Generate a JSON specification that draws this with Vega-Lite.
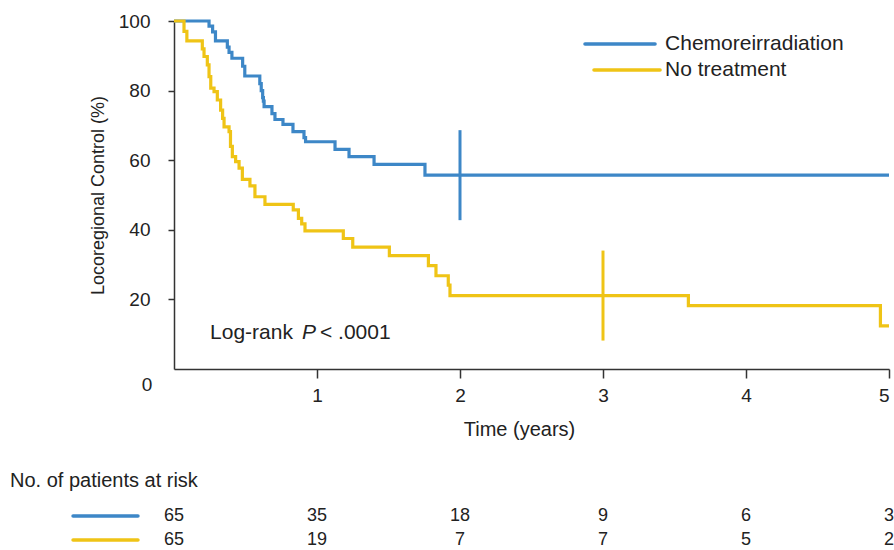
{
  "$schema": "https://vega.github.io/schema/vega-lite/v6.json",
  "padding": {"left": 10, "top": 12, "right": 2, "bottom": 2},
  "config": {
    "view": {"stroke": null},
    "font": "Liberation Sans",
    "axis": {"labelFontSize": 19, "titleFontSize": 20, "titleFontWeight": "normal", "labelColor": "#222", "titleColor": "#222", "domainColor": "#333", "tickColor": "#333", "grid": false}
  },
  "datasets": {
    "curves": [
      {"group": "Chemoreirradiation", "t": 0, "v": 100},
      {"group": "Chemoreirradiation", "t": 0.245, "v": 98.5},
      {"group": "Chemoreirradiation", "t": 0.27, "v": 96.9},
      {"group": "Chemoreirradiation", "t": 0.29, "v": 94.3},
      {"group": "Chemoreirradiation", "t": 0.373, "v": 92.5},
      {"group": "Chemoreirradiation", "t": 0.385, "v": 91},
      {"group": "Chemoreirradiation", "t": 0.405, "v": 89.3},
      {"group": "Chemoreirradiation", "t": 0.48, "v": 87},
      {"group": "Chemoreirradiation", "t": 0.495, "v": 84.2},
      {"group": "Chemoreirradiation", "t": 0.6, "v": 82},
      {"group": "Chemoreirradiation", "t": 0.61, "v": 80},
      {"group": "Chemoreirradiation", "t": 0.62, "v": 78},
      {"group": "Chemoreirradiation", "t": 0.625, "v": 77},
      {"group": "Chemoreirradiation", "t": 0.63, "v": 75.4},
      {"group": "Chemoreirradiation", "t": 0.685, "v": 73.4},
      {"group": "Chemoreirradiation", "t": 0.706, "v": 71.7},
      {"group": "Chemoreirradiation", "t": 0.762, "v": 70.3},
      {"group": "Chemoreirradiation", "t": 0.832, "v": 68.2},
      {"group": "Chemoreirradiation", "t": 0.909, "v": 66.5},
      {"group": "Chemoreirradiation", "t": 0.92, "v": 65.3},
      {"group": "Chemoreirradiation", "t": 1.126, "v": 63.1},
      {"group": "Chemoreirradiation", "t": 1.224, "v": 61.0},
      {"group": "Chemoreirradiation", "t": 1.399, "v": 58.8},
      {"group": "Chemoreirradiation", "t": 1.755, "v": 55.7},
      {"group": "Chemoreirradiation", "t": 5, "v": 55.7},
      {"group": "No treatment", "t": 0, "v": 100},
      {"group": "No treatment", "t": 0.07, "v": 97},
      {"group": "No treatment", "t": 0.09, "v": 94.3},
      {"group": "No treatment", "t": 0.198, "v": 92},
      {"group": "No treatment", "t": 0.21, "v": 89.8},
      {"group": "No treatment", "t": 0.233, "v": 87.4},
      {"group": "No treatment", "t": 0.245, "v": 84},
      {"group": "No treatment", "t": 0.257, "v": 80.7},
      {"group": "No treatment", "t": 0.28, "v": 79.7},
      {"group": "No treatment", "t": 0.303, "v": 77.3},
      {"group": "No treatment", "t": 0.326, "v": 74.4},
      {"group": "No treatment", "t": 0.34, "v": 72},
      {"group": "No treatment", "t": 0.35, "v": 69.6},
      {"group": "No treatment", "t": 0.385, "v": 68.2},
      {"group": "No treatment", "t": 0.395, "v": 64},
      {"group": "No treatment", "t": 0.408, "v": 61},
      {"group": "No treatment", "t": 0.431, "v": 59.6},
      {"group": "No treatment", "t": 0.455, "v": 57.7},
      {"group": "No treatment", "t": 0.478, "v": 54.5},
      {"group": "No treatment", "t": 0.531, "v": 52.6},
      {"group": "No treatment", "t": 0.566, "v": 49.5},
      {"group": "No treatment", "t": 0.636, "v": 47.3},
      {"group": "No treatment", "t": 0.834, "v": 45.7},
      {"group": "No treatment", "t": 0.87, "v": 43.3},
      {"group": "No treatment", "t": 0.893, "v": 41.7},
      {"group": "No treatment", "t": 0.916, "v": 39.7},
      {"group": "No treatment", "t": 1.184, "v": 37.5},
      {"group": "No treatment", "t": 1.25, "v": 35},
      {"group": "No treatment", "t": 1.506, "v": 32.6},
      {"group": "No treatment", "t": 1.779, "v": 29.7},
      {"group": "No treatment", "t": 1.832, "v": 26.8},
      {"group": "No treatment", "t": 1.918, "v": 24.1},
      {"group": "No treatment", "t": 1.93, "v": 21.1},
      {"group": "No treatment", "t": 3.597, "v": 18.2},
      {"group": "No treatment", "t": 4.94, "v": 12.4},
      {"group": "No treatment", "t": 5, "v": 12.4}
    ],
    "censor": [
      {"group": "Chemoreirradiation", "t": 2, "v": 55.7},
      {"group": "No treatment", "t": 3, "v": 21.1}
    ],
    "risk": [
      {"group": "Chemoreirradiation", "t": 0, "n": 65},
      {"group": "Chemoreirradiation", "t": 1, "n": 35},
      {"group": "Chemoreirradiation", "t": 2, "n": 18},
      {"group": "Chemoreirradiation", "t": 3, "n": 9},
      {"group": "Chemoreirradiation", "t": 4, "n": 6},
      {"group": "Chemoreirradiation", "t": 5, "n": 3},
      {"group": "No treatment", "t": 0, "n": 65},
      {"group": "No treatment", "t": 1, "n": 19},
      {"group": "No treatment", "t": 2, "n": 7},
      {"group": "No treatment", "t": 3, "n": 7},
      {"group": "No treatment", "t": 4, "n": 5},
      {"group": "No treatment", "t": 5, "n": 2}
    ],
    "groups": [
      {"group": "Chemoreirradiation"},
      {"group": "No treatment"}
    ]
  },
  "spacing": 32,
  "resolve": {"scale": {"x": "independent", "y": "independent", "color": "independent"}},
  "vconcat": [
    {
      "width": 715,
      "height": 348,
      "layer": [
        {
          "data": {"name": "curves"},
          "mark": {"type": "line", "interpolate": "step-after", "strokeWidth": 3.2},
          "encoding": {
            "x": {"field": "t", "type": "quantitative", "scale": {"domain": [0, 5], "nice": false},
                  "axis": {"values": [1, 2, 3, 4, 5], "format": "d", "title": "Time (years)", "tickSize": 9, "labelPadding": 8, "titlePadding": 14, "titleX": 345, "domainWidth": 1.5, "tickWidth": 1.5}},
            "y": {"field": "v", "type": "quantitative", "scale": {"domain": [0, 100], "nice": false},
                  "axis": {"values": [20, 40, 60, 80, 100], "format": "d", "title": "Locoregional Control (%)", "titleFontSize": 18, "tickSize": 6, "labelPadding": 18, "titlePadding": 11, "domainWidth": 1.5, "tickWidth": 1.5}},
            "color": {"field": "group", "type": "nominal",
                      "scale": {"domain": ["Chemoreirradiation", "No treatment"], "range": ["#3d87c7", "#efc416"]},
                      "legend": null}
          }
        },
        {
          "data": {"name": "censor"},
          "mark": {"type": "tick", "orient": "vertical", "size": 90, "thickness": 3, "opacity": 1},
          "encoding": {
            "x": {"field": "t", "type": "quantitative"},
            "y": {"field": "v", "type": "quantitative"},
            "color": {"field": "group", "type": "nominal"}
          }
        },
        {
          "data": {"values": [{"group": "Chemoreirradiation"}]},
          "mark": {"type": "rule", "strokeWidth": 3.5, "strokeCap": "round"},
          "encoding": {"x": {"datum": 2.874}, "x2": {"datum": 3.364}, "y": {"datum": 93.4}, "color": {"field": "group", "type": "nominal"}}
        },
        {
          "data": {"values": [{"group": "No treatment"}]},
          "mark": {"type": "rule", "strokeWidth": 3.5, "strokeCap": "round"},
          "encoding": {"x": {"datum": 2.937}, "x2": {"datum": 3.399}, "y": {"datum": 85.9}, "color": {"field": "group", "type": "nominal"}}
        },
        {
          "data": {"values": [{"group": "Chemoreirradiation"}]},
          "mark": {"type": "text", "fontSize": 21, "color": "#222", "align": "left", "baseline": "middle"},
          "encoding": {"x": {"datum": 3.434}, "y": {"datum": 93.4}, "text": {"field": "group"}}
        },
        {
          "data": {"values": [{"group": "No treatment"}]},
          "mark": {"type": "text", "fontSize": 21, "color": "#222", "align": "left", "baseline": "middle"},
          "encoding": {"x": {"datum": 3.434}, "y": {"datum": 85.9}, "text": {"field": "group"}}
        },
        {
          "data": {"values": [{"label": "0"}]},
          "mark": {"type": "text", "fontSize": 19, "color": "#222", "dx": -27, "dy": 16, "baseline": "middle"},
          "encoding": {"x": {"datum": 0}, "y": {"datum": 0}, "text": {"field": "label"}}
        },
        {
          "data": {"values": [{"label": "Log-rank"}]},
          "mark": {"type": "text", "fontSize": 21, "color": "#222", "align": "left", "baseline": "middle"},
          "encoding": {"x": {"datum": 0.252}, "y": {"datum": 10.3}, "text": {"field": "label"}}
        },
        {
          "data": {"values": [{"label": "P"}]},
          "mark": {"type": "text", "fontSize": 21, "fontStyle": "italic", "color": "#222", "align": "left", "baseline": "middle"},
          "encoding": {"x": {"datum": 0.895}, "y": {"datum": 10.3}, "text": {"field": "label"}}
        },
        {
          "data": {"values": [{"label": "< .0001"}]},
          "mark": {"type": "text", "fontSize": 21, "color": "#222", "align": "left", "baseline": "middle"},
          "encoding": {"x": {"datum": 1.021}, "y": {"datum": 10.3}, "text": {"field": "label"}}
        }
      ]
    },
    {
      "width": 715,
      "height": 48,
      "title": {"text": "No. of patients at risk", "anchor": "start", "frame": "group", "dx": -164, "fontSize": 20, "fontWeight": "normal", "color": "#222", "offset": 13},
      "layer": [
        {
          "data": {"name": "groups"},
          "mark": {"type": "rule", "strokeWidth": 3.5, "strokeCap": "round"},
          "encoding": {
            "x": {"datum": -0.706, "type": "quantitative", "scale": {"domain": [0, 5], "nice": false}, "axis": null},
            "x2": {"datum": -0.252},
            "y": {"field": "group", "type": "nominal", "scale": {"type": "point", "padding": 0.5, "domain": ["Chemoreirradiation", "No treatment"]}, "axis": null},
            "color": {"field": "group", "type": "nominal", "scale": {"domain": ["Chemoreirradiation", "No treatment"], "range": ["#3d87c7", "#efc416"]}, "legend": null}
          }
        },
        {
          "data": {"name": "risk"},
          "mark": {"type": "text", "fontSize": 18, "color": "#222", "baseline": "middle", "align": "center"},
          "encoding": {
            "x": {"field": "t", "type": "quantitative"},
            "y": {"field": "group", "type": "nominal"},
            "text": {"field": "n", "type": "quantitative"}
          }
        }
      ]
    }
  ]
}
